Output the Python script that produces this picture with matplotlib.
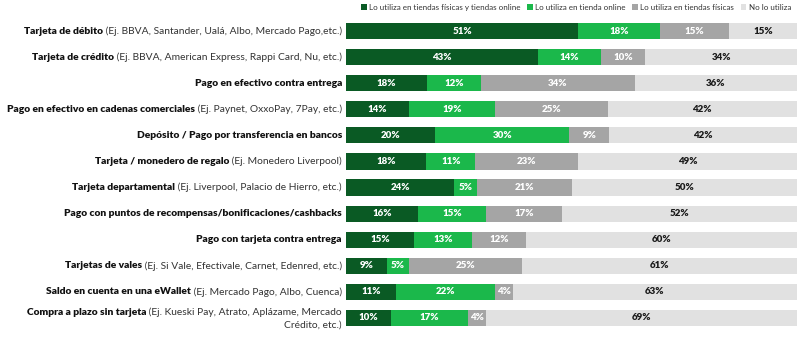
import matplotlib
matplotlib.use('Agg')
import matplotlib.pyplot as plt
import matplotlib.transforms as mtransforms
import numpy as np

plt.rcParams['font.family'] = ['Lato', 'DejaVu Sans']

# Data
bold_labels = [
    "Tarjeta de débito",
    "Tarjeta de crédito",
    "Pago en efectivo contra entrega",
    "Pago en efectivo en cadenas comerciales",
    "Depósito / Pago por transferencia en bancos",
    "Tarjeta / monedero de regalo",
    "Tarjeta departamental",
    "Pago con puntos de recompensas/bonificaciones/cashbacks",
    "Pago con tarjeta contra entrega",
    "Tarjetas de vales",
    "Saldo en cuenta en una eWallet",
    "Compra a plazo sin tarjeta",
]
extra_labels = [
    "(Ej. BBVA, Santander, Ualá, Albo, Mercado Pago,etc.)",
    "(Ej. BBVA, American Express, Rappi Card, Nu, etc.)",
    "",
    "(Ej. Paynet, OxxoPay, 7Pay, etc.)",
    "",
    "(Ej. Monedero Liverpool)",
    "(Ej. Liverpool, Palacio de Hierro, etc.)",
    "",
    "",
    "(Ej. Si Vale, Efectivale, Carnet, Edenred, etc.)",
    "(Ej. Mercado Pago, Albo, Cuenca)",
    "(Ej. Kueski Pay, Atrato, Aplázame, Mercado",
]
both = [51, 43, 18, 14, 20, 18, 24, 16, 15, 9, 11, 10]
online = [18, 14, 12, 19, 30, 11, 5, 15, 13, 5, 22, 17]
fisicas = [15, 10, 34, 25, 9, 23, 21, 17, 12, 25, 4, 4]
no_usa = [15, 34, 36, 42, 42, 49, 50, 52, 60, 61, 63, 69]

series = ["Lo utiliza en tiendas físicas y tiendas online",
          "Lo utiliza en tienda online",
          "Lo utiliza en tiendas físicas",
          "No lo utiliza"]
colors = ['#0a5a24', '#1bb84b', '#a5a5a5', '#e1e1e1']
text_colors = ['white', 'white', 'white', '#1a1a1a']

fig = plt.figure(figsize=(8, 3.4), dpi=100)
ax = fig.add_axes([346 / 800, 9 / 340, 451 / 800, 313 / 340])

data = np.array([both, online, fisicas, no_usa], dtype=float)
norm = data / data.sum(axis=0) * 100
y = np.arange(len(bold_labels))
left = np.zeros(len(y))
for k in range(4):
    ax.barh(y, norm[k], left=left, height=0.62, color=colors[k], label=series[k])
    for i in range(len(y)):
        ax.text(left[i] + norm[k][i] / 2, y[i], f"{int(data[k][i])}%",
                ha='center', va='center', fontsize=7, fontweight='heavy',
                color=text_colors[k])
    left += norm[k]

ax.set_xlim(0, 100)
ax.set_ylim(len(y) - 0.5, -0.5)
ax.axis('off')

# Category labels: bold part + regular part, right-aligned
renderer = fig.canvas.get_renderer()
trans = mtransforms.blended_transform_factory(fig.transFigure, ax.transData)
xlab = 342 / 800
for i in range(len(y)):
    yy = y[i] - (0.22 if i == len(y) - 1 else 0)
    offset = 0
    if extra_labels[i]:
        t = ax.text(xlab, yy, " " + extra_labels[i], transform=trans, ha='right',
                    va='center', fontsize=7.4, color='#333333')
        offset = t.get_window_extent(renderer).width
    tb = mtransforms.offset_copy(trans, fig=fig, x=-offset * 72 / fig.dpi, units='points')
    ax.text(xlab, yy, bold_labels[i], transform=tb, ha='right', va='center',
            fontsize=7.4, fontweight='heavy', color='#111111')
ax.text(xlab, y[-1] + 0.26, "Crédito, etc.)", transform=trans, ha='right',
        va='center', fontsize=7.4, color='#333333')

fig.legend(loc='upper right', bbox_to_anchor=(0.998, 1.01), ncol=4, frameon=False,
           fontsize=5.8, handlelength=0.7, handleheight=0.7, handletextpad=0.3,
           columnspacing=0.8, labelcolor='#333333')

fig.savefig('out.png', dpi=100)
